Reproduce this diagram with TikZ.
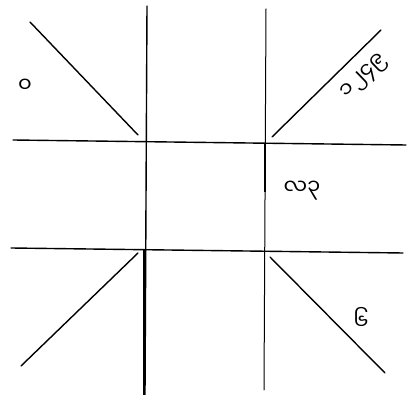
\documentclass[tikz,border=0pt]{standalone}
\usepackage{fontspec}
\newfontfamily\mmfont[Script=Myanmar]{Noto Sans Myanmar UI}
\tikzset{
  ln/.style={line width=1.4pt, line cap=round},
  thinln/.style={line width=1.0pt, line cap=round},
  lbl/.style={font=\mmfont\fontsize{21}{24}\selectfont, inner sep=0pt}
}
\begin{document}
\begin{tikzpicture}[x=1pt,y=-1pt]
\useasboundingbox (0,0) rectangle (408,395);
% grid lines
\draw[ln] (147,6) -- (145,395);
\draw[thinln] (266,9) -- (264,390);
\draw[line width=2pt] (265,143) -- (265,192);
\draw[line width=2pt] (144,250) -- (144,395);
\draw[ln] (13,140) -- (406,145);
\draw[ln] (11,248) -- (403,253);
% diagonals
\draw[ln] (30,22) -- (138,135);
\draw[ln] (272,137) -- (381,30);
\draw[ln] (21,366) -- (138,253);
\draw[ln] (270,257) -- (385,373);
% labels
\node[lbl] (t1) at (25,86) {၀};
\node[lbl, rotate=44] (t2) at (365,77) {၁၂၄၉};
\node[lbl] (t3) at (302,191) {လ၃};
\node[lbl] (t4) at (361,318) {၆};
\end{tikzpicture}
\end{document}
